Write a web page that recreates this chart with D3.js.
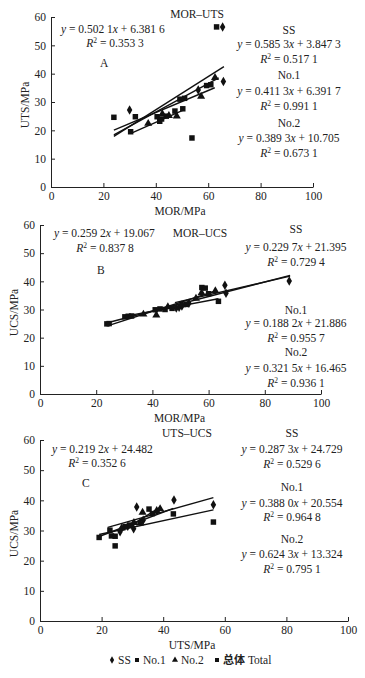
<!DOCTYPE html>
<html><head><meta charset="utf-8">
<script src="https://cdn.jsdelivr.net/npm/d3@7"></script>
<style>
body{margin:0;background:#fff;}
svg{display:block;}
text{font-family:"Liberation Serif","Times New Roman",serif;fill:#222;}
</style></head>
<body>
<svg id="chart" width="365" height="678"></svg>
<script>
// ---------- DATA ----------
const xTicks = [0, 20, 40, 60, 80, 100];
const yTicks = [0, 10, 20, 30, 40, 50, 60];
const panelLetters = ["A", "B", "C"];
const panelTitles = ["MOR–UTS", "MOR–UCS", "UTS–UCS"];
const xAxisLabels = ["MOR/MPa", "MOR/MPa", "UTS/MPa"];
const yAxisLabels = ["UTS/MPa", "UCS/MPa", "UCS/MPa"];
const seriesNames = ["SS", "No.1", "No.2", "总体 Total"];

// Panel A: MOR vs UTS
const ptsA_SS  = [[30, 27.2], [65.5, 56.5], [65.8, 37.2], [56.2, 34.2]];
const ptsA_No1 = [[24, 24.6], [32.2, 24.8], [30.4, 19.5], [40.5, 24.8], [41.5, 23.2], [42.2, 24.0], [44, 25.0], [47.3, 26.8], [50.3, 27.6], [53.8, 17.3], [63.2, 56.5], [59.4, 35.8], [61, 36.1], [49.2, 31.0], [51, 31.3]];
const ptsA_No2 = [[37.1, 22.4], [42.5, 25.8], [48, 25.0], [57.3, 32.0], [62.6, 38.6], [45, 25.2]];
// fits: [slope, intercept, R2] as printed ; order SS, No.1, No.2, Total
const fitA = [["0.585 3", "3.847 3", "0.517 1"], ["0.411 3", "6.391 7", "0.991 1"], ["0.389 3", "10.705", "0.673 1"], ["0.502 1", "6.381 6", "0.353 3"]];
const rangeA = [[24, 66], [30.5, 50.5], [24, 62.5], [24, 64]];

// Panel B: MOR vs UCS
const ptsB_SS  = [[48.5, 30.5], [49.5, 30.8], [50.5, 31.2], [65.8, 38.6], [66.2, 35.8], [88.7, 40.1], [53, 32.2]];
const ptsB_No1 = [[23.8, 24.9], [24.6, 25.0], [30.2, 27.4], [31.4, 27.6], [32.6, 27.7], [41, 29.9], [42.7, 30.2], [44.5, 30.0], [47, 30.4], [52, 31.8], [57.6, 37.8], [58.8, 37.6], [60, 35.6], [63.5, 32.9]];
const ptsB_No2 = [[36.8, 28.3], [41.4, 28.0], [45.5, 30.9], [50.5, 31.6], [57.5, 35.9], [62.4, 36.6], [55.5, 33.9]];
const fitB = [["0.229 7", "21.395", "0.729 4"], ["0.188 2", "21.886", "0.955 7"], ["0.321 5", "16.465", "0.936 1"], ["0.259 2", "19.067", "0.837 8"]];
const rangeB = [[48, 89], [31, 63.5], [24, 62.5], [24, 89]];

// Panel C: UTS vs UCS
const ptsC_SS  = [[31.4, 37.8], [43.5, 40.1], [56.3, 38.5], [26, 29.6], [28.5, 31.4], [30.4, 30.6], [33.5, 33.4]];
const ptsC_No1 = [[19.2, 27.7], [22.7, 30.1], [23.2, 28.2], [24.4, 24.9], [24.4, 28.1], [27.6, 31.3], [35.4, 37.1], [36.5, 35.6], [43.3, 35.5], [56.3, 32.8], [29.5, 31.8]];
const ptsC_No2 = [[33.3, 36.0], [37.9, 36.6], [39, 37.2], [32.5, 32.4], [26.5, 30.8], [30.5, 32.6]];
const fitC = [["0.287 3", "24.729", "0.529 6"], ["0.388 0", "20.554", "0.964 8"], ["0.624 3", "13.324", "0.795 1"], ["0.219 2", "24.482", "0.352 6"]];
const rangeC = [[22, 56.3], [19.2, 43.3], [26, 39], [19.2, 56.3]];

// ---------- DRAW ----------
const svg = d3.select("#chart");
const num = s => parseFloat(s.replace(/\s/g, ""));
const FS = 11.5;

const layouts = [
  {l: 51, r: 313, t: 17, b: 187, ylx: 25, xly: 211, title: [197, 14],
   leftEq: [61, 29], leftR: [115, 43], letter: [100, 63],
   rightX: 289, rightY: [30, 44, 59, 75, 91, 106, 123, 138, 153]},
  {l: 40, r: 321, t: 225, b: 394, ylx: 14, xly: 418, title: [200, 233],
   leftEq: [54, 233], leftR: [105, 248], letter: [97, 270],
   rightX: 296, rightY: [229, 247, 262, 310, 323, 338, 352, 368, 383]},
  {l: 40, r: 348, t: 440, b: 621, ylx: 14, xly: 645, title: [187, 433],
   leftEq: [52, 449], leftR: [97, 463], letter: [82, 483],
   rightX: 292, rightY: [433, 449, 464, 487, 503, 517, 539, 554, 569]}
];
const allPts = [[ptsA_SS, ptsA_No1, ptsA_No2], [ptsB_SS, ptsB_No1, ptsB_No2], [ptsC_SS, ptsC_No1, ptsC_No2]];
const allFits = [fitA, fitB, fitC];
const allRanges = [rangeA, rangeB, rangeC];
const symbols = [d3.symbolDiamond, d3.symbolSquare, d3.symbolTriangle, d3.symbolSquare];
const symSizes = [26, 30, 28, 16];

function eqText(sel, slope, inter) {
  sel.append("tspan").attr("font-style", "italic").text("y");
  sel.append("tspan").text(" = " + slope);
  sel.append("tspan").attr("font-style", "italic").text("x");
  sel.append("tspan").text(" + " + inter);
}
function r2Text(sel, r2) {
  sel.append("tspan").attr("font-style", "italic").text("R");
  sel.append("tspan").attr("font-size", 7.5).attr("dy", -4).text("2");
  sel.append("tspan").attr("dy", 4).text(" = " + r2);
}

layouts.forEach((L, i) => {
  const g = svg.append("g");
  const x = d3.scaleLinear().domain([0, 100]).range([L.l, L.r]);
  const y = d3.scaleLinear().domain([0, 60]).range([L.b, L.t]);

  const xa = g.append("g").attr("transform", `translate(0,${L.b})`)
    .call(d3.axisBottom(x).tickValues(xTicks).tickSizeInner(-4).tickSizeOuter(0).tickPadding(5));
  const ya = g.append("g").attr("transform", `translate(${L.l},0)`)
    .call(d3.axisLeft(y).tickValues(yTicks).tickSizeInner(-4).tickSizeOuter(0).tickPadding(5));
  [xa, ya].forEach(a => {
    a.selectAll("text").attr("font-size", FS).attr("font-family", '"Liberation Serif",serif').attr("fill", "#222");
    a.selectAll("path,line").attr("stroke", "#222").attr("stroke-width", 1);
  });

  g.append("text").attr("x", (L.l + L.r) / 2 + (i === 2 ? -1 : 0) + (i === 0 ? -2 : -1)).attr("y", L.xly).attr("dy", "0.35em")
    .attr("text-anchor", "middle").attr("font-size", FS).text(xAxisLabels[i]);
  g.append("text").attr("transform", `translate(${L.ylx},${(L.t + L.b) / 2 + 3}) rotate(-90)`).attr("dy", "0.35em")
    .attr("text-anchor", "middle").attr("font-size", FS).text(yAxisLabels[i]);

  // fit lines
  const fits = allFits[i], ranges = allRanges[i];
  fits.forEach((f, k) => {
    const m = num(f[0]), c = num(f[1]);
    const [x0, x1] = ranges[k];
    g.append("line").attr("x1", x(x0)).attr("y1", y(m * x0 + c)).attr("x2", x(x1)).attr("y2", y(m * x1 + c))
      .attr("stroke", "#111").attr("stroke-width", 1.4);
  });

  // points
  allPts[i].forEach((pts, s) => {
    g.selectAll(null).data(pts).enter().append("path")
      .attr("d", d3.symbol().type(symbols[s]).size(symSizes[s]))
      .attr("transform", d => `translate(${x(d[0])},${y(d[1])})`)
      .attr("fill", "#111");
  });

  // texts
  g.append("text").attr("x", L.title[0]).attr("y", L.title[1]).attr("dy", "0.35em").attr("text-anchor", "middle")
    .attr("font-size", FS).text(panelTitles[i]);
  g.append("text").attr("x", L.letter[0]).attr("y", L.letter[1]).attr("dy", "0.35em")
    .attr("font-size", FS).text(panelLetters[i]);
  const tot = fits[3];
  eqText(g.append("text").attr("x", L.leftEq[0]).attr("y", L.leftEq[1]).attr("dy", "0.35em").attr("font-size", FS), tot[0], tot[1]);
  r2Text(g.append("text").attr("x", L.leftR[0]).attr("y", L.leftR[1]).attr("dy", "0.35em").attr("text-anchor", "middle").attr("font-size", FS), tot[2]);

  for (let k = 0; k < 3; k++) {
    const f = fits[k];
    g.append("text").attr("x", L.rightX).attr("y", L.rightY[k * 3]).attr("dy", "0.35em").attr("text-anchor", "middle")
      .attr("font-size", FS).text(seriesNames[k]);
    eqText(g.append("text").attr("x", L.rightX).attr("y", L.rightY[k * 3 + 1]).attr("dy", "0.35em").attr("text-anchor", "middle").attr("font-size", FS), f[0], f[1]);
    r2Text(g.append("text").attr("x", L.rightX).attr("y", L.rightY[k * 3 + 2]).attr("dy", "0.35em").attr("text-anchor", "middle").attr("font-size", FS), f[2]);
  }
});

// legend
const legX = [112, 137, 175, 217];
const legG = svg.append("g");
seriesNames.forEach((n, k) => {
  legG.append("path").attr("d", d3.symbol().type(symbols[k]).size(16))
    .attr("transform", `translate(${legX[k]},660)`).attr("fill", "#111");
  const t = legG.append("text").attr("x", legX[k] + 6).attr("y", 660).attr("dy", "0.35em").attr("font-size", FS);
  if (k === 3) {
    const parts = n.split(" ");
    t.append("tspan").attr("font-family", '"Noto Sans CJK SC",sans-serif').attr("font-weight", "bold").attr("font-size", 11).text(parts[0]);
    t.append("tspan").text(" " + parts[1]);
  } else t.text(n);
});
</script>
</body></html>
